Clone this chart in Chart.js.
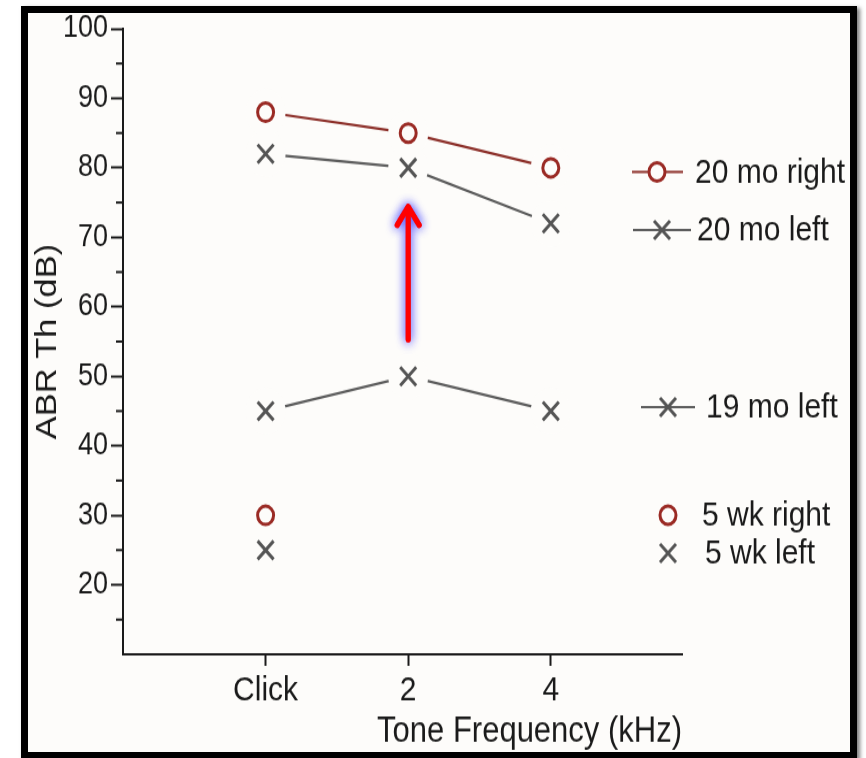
<!DOCTYPE html>
<html lang="en">
<head>
  <meta charset="UTF-8" />
  <title>ABR threshold by tone frequency</title>
  <script src="https://cdn.jsdelivr.net/npm/chart.js"></script>
  <style>
    * { margin: 0; padding: 0; box-sizing: border-box; }
    body {
      background: #fff;
      width: 866px;
      height: 758px;
      overflow: hidden;
      position: relative;
    }
    .paper {
      position: absolute;
      left: 21px; top: 6px;
      width: 836px; height: 753px;
      background: #fdfcfa;
    }
    .frame {
      position: absolute;
      left: 21px; top: 6px;
      width: 836px; height: 753px;
      border: 7px solid #000;
      box-shadow: 3px 2px 4px rgba(0, 0, 0, 0.5);
      z-index: 2;
      pointer-events: none;
    }
    /* the source figure is stretched vertically, so the whole chart is too */
    .stretch {
      position: absolute;
      left: 0; top: 0;
      width: 866px; height: 659px;
      transform: scaleY(1.15);
      transform-origin: 0 0;
      z-index: 1;
    }
  </style>
</head>
<body>
  <div class="paper"></div>
  <div class="stretch"><canvas id="abr"></canvas></div>
  <div class="frame"></div>

  <script>
    const categories = ['Click', '2', '4'];
    const yTickValues = [20, 30, 40, 50, 60, 70, 80, 90, 100];
    const yMinorValues = [15, 25, 35, 45, 55, 65, 75, 85, 95];

    const mo20Right = [88, 85, 80];
    const mo20Left = [82, 80, 72];
    const mo19Left = [45, 50, 45];
    const wk5Right = [30, null, null];
    const wk5Left = [25, null, null];

    const legendLabels = ['20 mo right', '20 mo left', '19 mo left', '5 wk right', '5 wk left'];

    // red arrow at "2", from / to (dB)
    const arrowCategory = 2;
    const arrowFrom = 55.3;
    const arrowTo = 74.4;

    const PAPER = '#fdfcfa';
    const RED = '#9a2a24';
    const RED_LINE = '#8c2f29';
    const GREY = '#555555';
    const GREY_LINE = '#5c5c5c';
    const INK = '#1a1a1a';
    const FONT = "'Liberation Sans', Arial, sans-serif";

    const toPoints = arr => arr
      .map((v, i) => ({ x: i + 1, y: v }))
      .filter(p => p.y !== null);

    // line with a paper coloured halo round each point, so the segments stop short of the marks
    const lineSet = (vals, color) => ({
      data: toPoints(vals),
      showLine: true,
      borderColor: color,
      borderWidth: 2.2,
      pointRadius: 20,
      pointBorderWidth: 0,
      pointBorderColor: PAPER,
      pointBackgroundColor: PAPER,
      order: 2
    });

    const circleSet = vals => ({
      data: toPoints(vals),
      showLine: false,
      pointStyle: 'circle',
      pointRadius: 8,
      pointBorderWidth: 3,
      pointBorderColor: RED,
      pointBackgroundColor: PAPER,
      order: 1
    });

    const crossSet = vals => ({
      data: toPoints(vals),
      showLine: false,
      pointStyle: 'crossRot',
      pointRadius: 11.3,
      pointBorderWidth: 3,
      pointBorderColor: GREY,
      pointBackgroundColor: GREY,
      order: 1
    });

    const minorTicks = {
      id: 'minorTicks',
      afterDraw(chart) {
        const { ctx, scales: { y } } = chart;
        ctx.save();
        ctx.strokeStyle = INK;
        ctx.lineWidth = 2;
        yMinorValues.forEach(v => {
          const py = y.getPixelForValue(v);
          ctx.beginPath();
          ctx.moveTo(y.right - 7, py);
          ctx.lineTo(y.right, py);
          ctx.stroke();
        });
        ctx.restore();
      }
    };

    const arrow = {
      id: 'arrow',
      afterDatasetsDraw(chart) {
        const { ctx, scales: { x, y } } = chart;
        const px = x.getPixelForValue(arrowCategory);
        const y0 = y.getPixelForValue(arrowFrom);
        const y1 = y.getPixelForValue(arrowTo);
        ctx.save();
        ctx.strokeStyle = '#ff0000';
        ctx.lineWidth = 5;
        ctx.lineCap = 'round';
        ctx.lineJoin = 'round';
        ctx.shadowColor = 'rgba(70, 70, 255, 0.75)';
        ctx.shadowBlur = 10;
        for (let k = 0; k < 2; k++) {
          ctx.beginPath();
          ctx.moveTo(px, y0);
          ctx.lineTo(px, y1 + 2);
          ctx.moveTo(px - 11, y1 + 16);
          ctx.lineTo(px, y1);
          ctx.lineTo(px + 11, y1 + 16);
          ctx.stroke();
        }
        ctx.restore();
      }
    };

    // hand placed legend, as in the figure
    const sideLegend = {
      id: 'sideLegend',
      afterDraw(chart) {
        const ctx = chart.ctx;
        const items = [
          { line: [632, 683], mark: 'circle', mx: 657, y: 149.5, tx: 695 },
          { line: [633, 691], mark: 'cross', mx: 662, y: 200, tx: 697 },
          { line: [641, 695], mark: 'cross', mx: 668, y: 354, tx: 706 },
          { line: null, mark: 'circle', mx: 668, y: 448, tx: 702 },
          { line: null, mark: 'cross', mx: 668, y: 481, tx: 705 }
        ];
        ctx.save();
        items.forEach((it, i) => {
          const isCircle = it.mark === 'circle';
          if (it.line) {
            ctx.strokeStyle = isCircle ? RED_LINE : GREY_LINE;
            ctx.lineWidth = 2.2;
            ctx.beginPath();
            ctx.moveTo(it.line[0], it.y);
            ctx.lineTo(it.line[1], it.y);
            ctx.stroke();
          }
          if (isCircle) {
            ctx.fillStyle = PAPER;
            ctx.strokeStyle = RED;
            ctx.lineWidth = 3;
            ctx.beginPath();
            ctx.arc(it.mx, it.y, 8, 0, Math.PI * 2);
            ctx.fill();
            ctx.stroke();
          } else {
            ctx.strokeStyle = GREY;
            ctx.lineWidth = 3;
            ctx.beginPath();
            ctx.moveTo(it.mx - 8, it.y - 8);
            ctx.lineTo(it.mx + 8, it.y + 8);
            ctx.moveTo(it.mx + 8, it.y - 8);
            ctx.lineTo(it.mx - 8, it.y + 8);
            ctx.stroke();
          }
          ctx.fillStyle = INK;
          ctx.font = '30px ' + FONT;
          ctx.textBaseline = 'middle';
          ctx.textAlign = 'left';
          ctx.fillText(legendLabels[i], it.tx, it.y + 1);
        });
        ctx.restore();
      }
    };

    new Chart(document.getElementById('abr'), {
      type: 'scatter',
      data: {
        datasets: [
          lineSet(mo20Right, RED_LINE),
          lineSet(mo20Left, GREY_LINE),
          lineSet(mo19Left, GREY_LINE),
          circleSet(mo20Right),
          crossSet(mo20Left),
          crossSet(mo19Left),
          circleSet(wk5Right),
          crossSet(wk5Left)
        ]
      },
      options: {
        responsive: true,
        maintainAspectRatio: false,
        animation: false,
        events: [],
        layout: { padding: { left: 20, top: 25, right: 184, bottom: 0 } },
        plugins: {
          legend: { display: false },
          tooltip: { enabled: false }
        },
        scales: {
          x: {
            type: 'linear',
            min: 0,
            max: 3.92,
            afterBuildTicks: s => { s.ticks = [1, 2, 3].map(v => ({ value: v })); },
            afterFit: s => { s.height = 90; },
            ticks: {
              callback: v => categories[v - 1],
              color: INK,
              font: { family: FONT, size: 30 },
              padding: 4,
              maxRotation: 0,
              autoSkip: false
            },
            grid: { drawOnChartArea: false, tickLength: 10, tickWidth: 2, tickColor: INK },
            border: { color: INK, width: 2 },
            title: {
              display: true,
              text: 'Tone Frequency (kHz)',
              align: 'end',
              color: INK,
              font: { family: FONT, size: 31 },
              padding: { top: 0, bottom: 4 }
            }
          },
          y: {
            min: 10,
            max: 100,
            afterBuildTicks: s => { s.ticks = yTickValues.map(v => ({ value: v })); },
            afterFit: s => { s.width = 103; },
            ticks: {
              color: INK,
              font: { family: FONT, size: 27 },
              padding: 3
            },
            grid: { drawOnChartArea: false, tickLength: 12, tickWidth: 2, tickColor: INK },
            border: { color: INK, width: 2 },
            title: {
              display: true,
              text: 'ABR Th (dB)',
              color: INK,
              font: { family: FONT, size: 30 },
              padding: { top: 10, bottom: 0 }
            }
          }
        }
      },
      plugins: [minorTicks, arrow, sideLegend]
    });
  </script>
</body>
</html>
